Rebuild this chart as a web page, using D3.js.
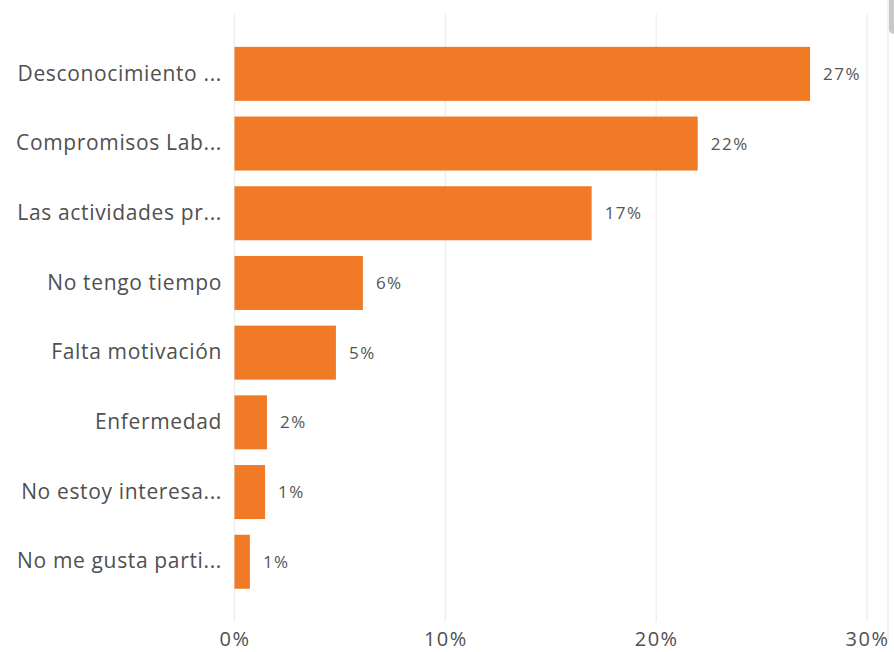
<!DOCTYPE html>
<html><head><meta charset="utf-8">
<script src="https://cdn.jsdelivr.net/npm/d3@7"></script>
<style>
html,body{margin:0;padding:0;background:#fff;}
svg{display:block;font-family:"Open Sans","Segoe UI",sans-serif;}
</style></head>
<body>
<svg id="chart" width="894" height="652"></svg>
<script>
const categories = ["Desconocimiento ...","Compromisos Lab...","Las actividades pr...","No tengo tiempo","Falta motivación","Enfermedad","No estoy interesa...","No me gusta parti..."];
const values = [27.3, 21.97, 16.94, 6.09, 4.81, 1.54, 1.45, 0.73];
const valueLabels = ["27%","22%","17%","6%","5%","2%","1%","1%"];
const ticks = [0, 10, 20, 30];

const svg = d3.select("#chart");
const x = d3.scaleLinear().domain([0, 30]).range([234.5, 867]);
const y = d3.scaleBand().domain(categories).range([39, 596.6]).paddingInner(0.225).paddingOuter(0.1125);

// gridlines
svg.append("g").selectAll("line").data(ticks).join("line")
  .attr("x1", d => x(d)).attr("x2", d => x(d))
  .attr("y1", 14).attr("y2", 622)
  .attr("stroke", "#ececec").attr("stroke-width", 1.2);

// scrollbar-like element at the right edge
svg.append("rect").attr("x", 889).attr("y", -6).attr("width", 12).attr("height", 40).attr("rx", 5).attr("fill", "#c8c8c8");
svg.append("line").attr("x1", 888).attr("x2", 888).attr("y1", 0).attr("y2", 640).attr("stroke", "#e6e6e6");

// bars
svg.append("g").selectAll("rect").data(values).join("rect")
  .attr("x", x(0))
  .attr("y", (d, i) => y(categories[i]))
  .attr("width", d => x(d) - x(0))
  .attr("height", y.bandwidth())
  .attr("fill", "#F07A26");

// value labels
svg.append("g").selectAll("text").data(values).join("text")
  .attr("x", d => x(d) + 13)
  .attr("y", (d, i) => y(categories[i]) + y.bandwidth() / 2)
  .attr("dy", "0.35em")
  .attr("font-size", 17)
  .attr("letter-spacing", 1.5)
  .attr("fill", "#555")
  .text((d, i) => valueLabels[i]);

// category axis
const yAxis = d3.axisLeft(y).tickSize(0).tickPadding(0);
const gy = svg.append("g").attr("transform", "translate(222,0)").call(yAxis);
gy.select(".domain").remove();
gy.selectAll("text").attr("font-size", 21).attr("letter-spacing", 0.65).attr("fill", "#505050").attr("font-family", "\"Open Sans\",sans-serif");

// x axis
const xAxis = d3.axisBottom(x).tickValues(ticks).tickFormat(d => d + "%").tickSize(0).tickPadding(0);
const gx = svg.append("g").attr("transform", "translate(0,631.5)").call(xAxis);
gx.select(".domain").remove();
gx.selectAll("text").attr("font-size", 20).attr("letter-spacing", 1.5).attr("fill", "#505050").attr("font-family", "\"Open Sans\",sans-serif");
</script>
</body></html>
